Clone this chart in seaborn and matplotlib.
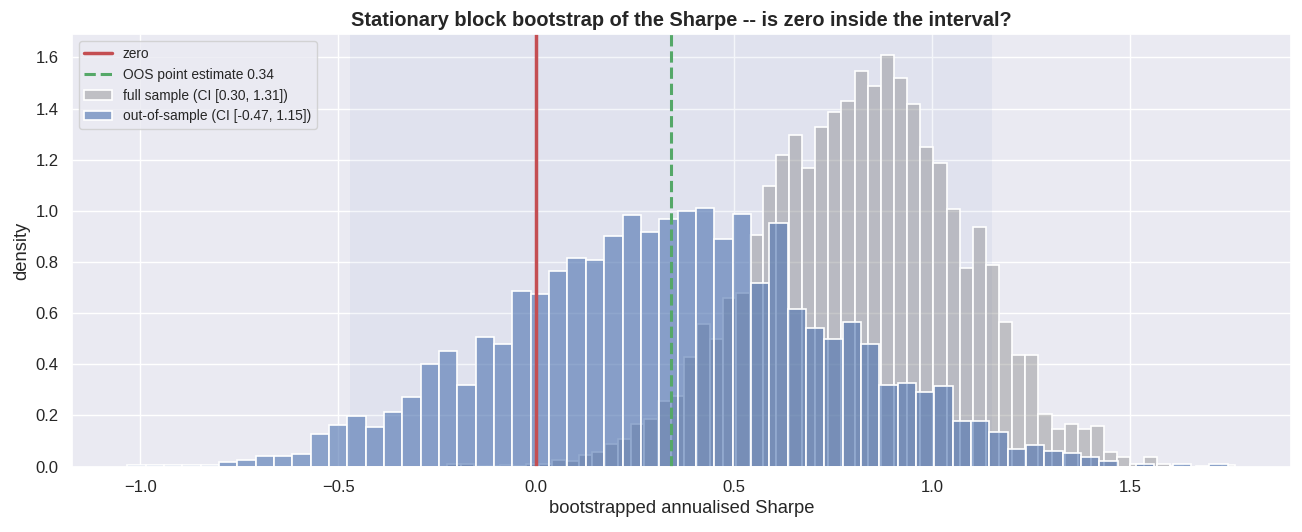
import numpy as np
import pandas as pd
import matplotlib
matplotlib.use('Agg')
import matplotlib.pyplot as plt
import seaborn as sns

# bin ranges of the two bootstrap histograms (60 bins each)
full_lo, full_hi = -0.224, 1.766
oos_lo, oos_hi = -1.032, 1.746
n_bins = 60

# densities, left to right
full_density = [
    0.008, 0.008, 0.003, 0.003, 0.005, 0.003, 0.010, 0.010, 0.025, 0.022,
    0.045, 0.055, 0.088, 0.106, 0.165, 0.186, 0.257, 0.276, 0.429, 0.557,
    0.499, 0.660, 0.677, 0.905, 1.098, 1.218, 1.296, 1.169, 1.327, 1.388,
    1.429, 1.547, 1.488, 1.609, 1.519, 1.418, 1.250, 1.186, 1.006, 0.776,
    0.937, 0.787, 0.564, 0.436, 0.436, 0.204, 0.147, 0.165, 0.147, 0.158,
    0.055, 0.037, 0.010, 0.038, 0.008, 0.003, 0.000, 0.003, 0.000, 0.005,
]
oos_density = [
    0.004, 0.004, 0.005, 0.005, 0.005, 0.016, 0.025, 0.041, 0.041, 0.049,
    0.127, 0.162, 0.196, 0.154, 0.212, 0.271, 0.401, 0.450, 0.318, 0.506,
    0.479, 0.685, 0.676, 0.765, 0.814, 0.806, 0.900, 0.982, 0.917, 0.967,
    1.000, 1.010, 0.889, 0.986, 0.716, 0.952, 0.616, 0.542, 0.499, 0.564,
    0.479, 0.318, 0.328, 0.293, 0.315, 0.178, 0.178, 0.135, 0.067, 0.084,
    0.061, 0.054, 0.038, 0.023, 0.000, 0.009, 0.000, 0.008, 0.000, 0.008,
]

full_ci = (0.30, 1.31)
oos_ci = (-0.47, 1.15)
oos_point = 0.34

sns.set_theme(style='darkgrid')
plt.rcParams['font.family'] = ['Liberation Sans', 'DejaVu Sans']

full_edges = np.linspace(full_lo, full_hi, n_bins + 1)
oos_edges = np.linspace(oos_lo, oos_hi, n_bins + 1)
fullDf = pd.DataFrame({'sharpe': (full_edges[:-1] + full_edges[1:]) / 2, 'density': full_density})
oosDf = pd.DataFrame({'sharpe': (oos_edges[:-1] + oos_edges[1:]) / 2, 'density': oos_density})

fig, ax = plt.subplots(figsize=(13.02, 5.32), dpi=100)
fig.subplots_adjust(left=0.0553, right=0.9915, top=0.9353, bottom=0.1231)

# CI shading of the out-of-sample interval
ax.axvspan(oos_ci[0], oos_ci[1], color='C0', alpha=0.06, lw=0)

sns.histplot(data=fullDf, x='sharpe', weights='density', bins=full_edges.tolist(),
             color='grey', alpha=0.4, edgecolor='white', linewidth=1.2,
             label=f'full sample (CI [{full_ci[0]:.2f}, {full_ci[1]:.2f}])', ax=ax)
sns.histplot(data=oosDf, x='sharpe', weights='density', bins=oos_edges.tolist(),
             color='C0', alpha=0.6, edgecolor='white', linewidth=1.2,
             label=f'out-of-sample (CI [{oos_ci[0]:.2f}, {oos_ci[1]:.2f}])', ax=ax)

ax.axvline(0, color='C3', lw=2.5, label='zero')
ax.axvline(oos_point, color='C2', lw=2.2, ls='--', label=f'OOS point estimate {oos_point:.2f}')

ax.set_xlim(-1.172, 1.906)
ax.set_ylim(0, 1.69)
ax.set_yticks(np.arange(0, 1.61, 0.2))
ax.tick_params(labelsize=12)
ax.set_title('Stationary block bootstrap of the Sharpe -- is zero inside the interval?',
             fontsize=14.4, fontweight='bold')
ax.set_xlabel('bootstrapped annualised Sharpe', fontsize=13.2)
ax.set_ylabel('density', fontsize=13.2)
ax.legend(loc='upper left', fontsize=9.9)

plt.savefig('out.png', dpi=100)
plt.close()
